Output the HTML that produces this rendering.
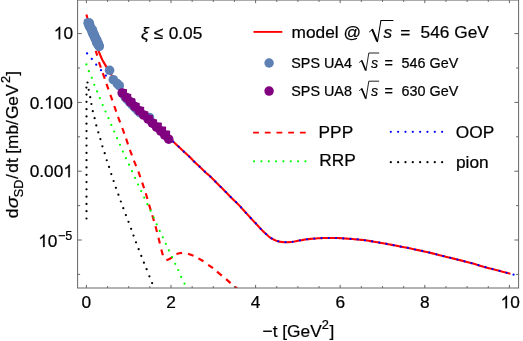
<!DOCTYPE html>
<html><head><meta charset="utf-8"><title>plot</title>
<style>html,body{margin:0;padding:0;background:#fff;}body{width:523px;height:341px;position:relative;overflow:hidden;font-family:"Liberation Sans",sans-serif;}</style></head>
<body>
<svg width="523" height="341" viewBox="0 0 523 341" style="position:absolute;left:0;top:0;will-change:transform">
<style>text{stroke:#000;stroke-width:0.22px}</style>
<defs><clipPath id="c"><rect x="77.60" y="0" width="441.00" height="288.00"/></clipPath></defs>
<rect x="0" y="0" width="523" height="341" fill="#fff"/>
<g clip-path="url(#c)" fill="none">
<path d="M86.40 14.50 L86.59 15.16 L86.85 16.11 L87.15 17.17 L87.43 18.17 L87.69 19.07 L87.95 19.96 L88.21 20.85 L88.47 21.73 L88.72 22.60 L88.98 23.47 L89.24 24.33 L89.50 25.19 L89.76 26.03 L90.02 26.87 L90.28 27.71 L90.53 28.54 L90.79 29.36 L91.05 30.17 L91.31 30.98 L91.57 31.78 L91.83 32.58 L92.08 33.36 L92.34 34.15 L92.60 34.92 L92.86 35.69 L93.12 36.45 L93.38 37.21 L93.63 37.96 L93.89 38.70 L94.15 39.43 L94.41 40.16 L94.67 40.88 L94.93 41.60 L95.18 42.31 L95.44 43.01 L95.70 43.71 L95.96 44.40 L96.22 45.08 L96.48 45.76 L96.73 46.43 L96.99 47.09 L97.25 47.74 L97.51 48.39 L97.77 49.04 L97.96 49.53 L98.12 49.93 L98.36 50.51 L98.80 51.54 L99.50 53.24 L100.40 55.41 L101.39 57.73 L102.40 59.90 L103.44 61.87 L104.54 63.79 L105.64 65.64 L106.70 67.40 L107.68 69.03 L108.62 70.54 L109.55 72.01 L110.50 73.50 L111.49 75.02 L112.49 76.54 L113.50 78.04 L114.50 79.50 L115.50 80.92 L116.51 82.31 L117.51 83.67 L118.50 85.00 L119.47 86.29 L120.44 87.53 L121.41 88.76 L122.40 90.00 L123.42 91.25 L124.47 92.50 L125.53 93.75 L126.60 95.00 L127.70 96.27 L128.81 97.54 L129.92 98.80 L131.00 100.00 L132.02 101.12 L133.01 102.19 L133.99 103.23 L135.00 104.30 L136.06 105.40 L137.14 106.50 L138.23 107.60 L139.30 108.70 L140.35 109.78 L141.40 110.86 L142.45 111.93 L143.50 113.00 L144.57 114.08 L145.65 115.15 L146.73 116.22 L147.80 117.30 L148.86 118.38 L149.91 119.46 L150.95 120.53 L152.00 121.60 L153.05 122.66 L154.10 123.71 L155.15 124.76 L156.20 125.80 L157.25 126.83 L158.29 127.86 L159.34 128.88 L160.40 129.90 L161.47 130.91 L162.55 131.91 L163.63 132.91 L164.70 133.90 L165.75 134.88 L166.80 135.86 L167.85 136.83 L168.90 137.80 L169.95 138.76 L170.99 139.70 L172.06 140.67 L173.20 141.70 L174.43 142.81 L175.73 143.97 L177.06 145.17 L178.40 146.40 L179.74 147.67 L181.09 148.99 L182.45 150.31 L183.80 151.60 L185.16 152.84 L186.52 154.05 L187.87 155.26 L189.20 156.50 L190.49 157.78 L191.75 159.09 L193.01 160.40 L194.30 161.70 L195.63 162.98 L196.99 164.26 L198.36 165.53 L199.70 166.80 L201.01 168.06 L202.30 169.33 L203.59 170.57 L204.90 171.80 L206.24 172.99 L207.61 174.14 L208.97 175.30 L210.30 176.50 L211.59 177.74 L212.85 179.01 L214.11 180.29 L215.40 181.60 L216.73 182.93 L218.09 184.29 L219.46 185.66 L220.80 187.00 L222.11 188.31 L223.41 189.60 L224.70 190.89 L226.00 192.20 L227.30 193.54 L228.59 194.91 L229.89 196.27 L231.20 197.60 L232.54 198.89 L233.91 200.15 L235.27 201.41 L236.60 202.70 L237.82 203.94 L238.97 205.14 L240.21 206.48 L241.70 208.10 L243.62 210.21 L245.83 212.68 L248.05 215.16 L250.00 217.30 L251.56 218.98 L252.91 220.38 L254.15 221.67 L255.40 223.00 L256.67 224.39 L257.90 225.78 L259.13 227.14 L260.40 228.50 L261.72 229.86 L263.06 231.21 L264.43 232.54 L265.80 233.80 L267.16 235.02 L268.53 236.20 L269.93 237.31 L271.40 238.30 L272.97 239.18 L274.60 239.97 L276.28 240.65 L278.00 241.20 L279.76 241.62 L281.56 241.91 L283.38 242.09 L285.20 242.20 L287.02 242.22 L288.85 242.14 L290.68 242.00 L292.50 241.80 L294.31 241.54 L296.11 241.20 L297.90 240.84 L299.70 240.50 L301.50 240.18 L303.29 239.86 L305.09 239.56 L306.90 239.30 L308.72 239.09 L310.55 238.91 L312.38 238.75 L314.20 238.60 L316.01 238.45 L317.81 238.31 L319.60 238.19 L321.40 238.10 L323.20 238.04 L324.99 238.02 L326.79 238.01 L328.60 238.00 L330.42 237.98 L332.24 237.97 L334.07 237.97 L335.90 238.00 L337.75 238.07 L339.60 238.17 L341.45 238.28 L343.30 238.40 L345.13 238.52 L346.96 238.64 L348.78 238.77 L350.60 238.90 L352.43 239.04 L354.26 239.18 L356.08 239.33 L357.90 239.50 L359.71 239.68 L361.51 239.87 L363.31 240.07 L365.10 240.30 L366.88 240.55 L368.66 240.83 L370.43 241.11 L372.20 241.40 L373.97 241.69 L375.74 241.99 L377.52 242.29 L379.30 242.60 L381.10 242.92 L382.90 243.24 L384.70 243.57 L386.50 243.90 L388.28 244.22 L390.06 244.54 L391.83 244.87 L393.60 245.20 L395.38 245.55 L397.16 245.90 L398.94 246.25 L400.70 246.60 L402.43 246.93 L404.13 247.24 L405.84 247.56 L407.60 247.90 L409.26 248.25 L410.85 248.59 L412.67 248.99 L415.00 249.50 L418.06 250.14 L421.64 250.88 L425.43 251.67 L429.10 252.50 L432.60 253.36 L436.10 254.28 L439.60 255.20 L443.10 256.10 L446.62 256.96 L450.15 257.80 L453.68 258.64 L457.20 259.50 L460.70 260.37 L464.20 261.26 L467.70 262.16 L471.20 263.10 L474.72 264.10 L478.25 265.15 L481.78 266.20 L485.30 267.20 L488.88 268.15 L492.49 269.07 L496.01 269.95 L499.30 270.80 L502.54 271.66 L505.72 272.53 L508.47 273.28 L510.40 273.80" stroke="#ff0000" stroke-width="2.1" stroke-linejoin="round"/>
<path d="M95.70 50.90 L97.30 55.60" stroke="#ff0000" stroke-width="2.15"/>
<path d="M98.90 62.10 L100.86 67.67" stroke="#ff0000" stroke-width="2.15"/>
<path d="M102.80 73.20 L104.74 78.77" stroke="#ff0000" stroke-width="2.15"/>
<path d="M106.50 83.80 L108.46 89.37" stroke="#ff0000" stroke-width="2.15"/>
<path d="M110.40 94.90 L112.36 100.47" stroke="#ff0000" stroke-width="2.15"/>
<path d="M114.30 106.00 L116.21 111.58" stroke="#ff0000" stroke-width="2.15"/>
<path d="M118.00 116.80 L120.11 122.31" stroke="#ff0000" stroke-width="2.15"/>
<path d="M122.30 128.00 L124.27 133.56" stroke="#ff0000" stroke-width="2.15"/>
<path d="M126.10 138.70 L128.01 144.28" stroke="#ff0000" stroke-width="2.15"/>
<path d="M129.90 149.80 L131.95 155.33" stroke="#ff0000" stroke-width="2.15"/>
<path d="M133.90 160.60 L136.15 166.05" stroke="#ff0000" stroke-width="2.15"/>
<path d="M138.40 171.50 L140.31 177.08" stroke="#ff0000" stroke-width="2.15"/>
<path d="M142.20 182.60 L144.08 188.19" stroke="#ff0000" stroke-width="2.15"/>
<path d="M145.80 193.30 L147.42 198.97" stroke="#ff0000" stroke-width="2.15"/>
<path d="M149.00 204.50 L150.72 210.14" stroke="#ff0000" stroke-width="2.15"/>
<path d="M152.30 215.30 L153.95 220.97" stroke="#ff0000" stroke-width="2.15"/>
<path d="M155.50 226.30 L156.99 232.01" stroke="#ff0000" stroke-width="2.15"/>
<path d="M158.50 237.80 L159.87 243.54" stroke="#ff0000" stroke-width="2.15"/>
<path d="M161.30 249.50 L162.87 255.19" stroke="#ff0000" stroke-width="2.15"/>
<path d="M166.40 260.30 L169.40 259.00 L172.40 257.10" stroke="#ff0000" stroke-width="2.15"/>
<path d="M176.40 254.00 L179.20 253.20 L182.10 252.90" stroke="#ff0000" stroke-width="2.15"/>
<path d="M188.00 253.65 L193.50 255.80" stroke="#ff0000" stroke-width="2.15"/>
<path d="M198.40 258.35 L203.50 261.30" stroke="#ff0000" stroke-width="2.15"/>
<path d="M208.20 264.80 L213.00 268.20" stroke="#ff0000" stroke-width="2.15"/>
<path d="M217.00 271.70 L221.80 275.60" stroke="#ff0000" stroke-width="2.15"/>
<path d="M226.10 279.10 L230.60 283.10" stroke="#ff0000" stroke-width="2.15"/>
<path d="M234.80 286.60 L237.20 288.60" stroke="#ff0000" stroke-width="2.15"/>
<circle cx="86.40" cy="64.40" r="1.12" fill="#00ff00"/>
<circle cx="88.90" cy="71.20" r="1.12" fill="#00ff00"/>
<circle cx="91.80" cy="77.80" r="1.12" fill="#00ff00"/>
<circle cx="94.30" cy="84.80" r="1.12" fill="#00ff00"/>
<circle cx="97.10" cy="91.40" r="1.12" fill="#00ff00"/>
<circle cx="99.80" cy="98.20" r="1.12" fill="#00ff00"/>
<circle cx="102.70" cy="105.10" r="1.12" fill="#00ff00"/>
<circle cx="105.50" cy="111.50" r="1.12" fill="#00ff00"/>
<circle cx="108.50" cy="118.10" r="1.12" fill="#00ff00"/>
<circle cx="111.30" cy="124.90" r="1.12" fill="#00ff00"/>
<circle cx="114.20" cy="131.50" r="1.12" fill="#00ff00"/>
<circle cx="117.10" cy="138.20" r="1.12" fill="#00ff00"/>
<circle cx="120.00" cy="144.80" r="1.12" fill="#00ff00"/>
<circle cx="122.90" cy="151.60" r="1.12" fill="#00ff00"/>
<circle cx="125.90" cy="158.20" r="1.12" fill="#00ff00"/>
<circle cx="129.05" cy="164.70" r="1.12" fill="#00ff00"/>
<circle cx="132.00" cy="171.20" r="1.12" fill="#00ff00"/>
<circle cx="135.10" cy="177.90" r="1.12" fill="#00ff00"/>
<circle cx="138.10" cy="184.50" r="1.12" fill="#00ff00"/>
<circle cx="141.20" cy="191.10" r="1.12" fill="#00ff00"/>
<circle cx="144.20" cy="197.60" r="1.12" fill="#00ff00"/>
<circle cx="147.40" cy="204.20" r="1.12" fill="#00ff00"/>
<circle cx="150.60" cy="210.70" r="1.12" fill="#00ff00"/>
<circle cx="153.70" cy="217.50" r="1.12" fill="#00ff00"/>
<circle cx="156.70" cy="224.30" r="1.12" fill="#00ff00"/>
<circle cx="159.75" cy="230.90" r="1.12" fill="#00ff00"/>
<circle cx="162.80" cy="237.30" r="1.12" fill="#00ff00"/>
<circle cx="165.85" cy="243.80" r="1.12" fill="#00ff00"/>
<circle cx="168.90" cy="250.40" r="1.12" fill="#00ff00"/>
<circle cx="172.10" cy="257.10" r="1.12" fill="#00ff00"/>
<circle cx="175.20" cy="263.80" r="1.12" fill="#00ff00"/>
<circle cx="178.25" cy="270.00" r="1.12" fill="#00ff00"/>
<circle cx="181.20" cy="276.90" r="1.12" fill="#00ff00"/>
<circle cx="184.50" cy="283.60" r="1.12" fill="#00ff00"/>
<circle cx="87.07" cy="53.39" r="1.12" fill="#0000ff"/>
<circle cx="91.81" cy="58.89" r="1.12" fill="#0000ff"/>
<circle cx="96.22" cy="64.66" r="1.12" fill="#0000ff"/>
<circle cx="101.01" cy="70.13" r="1.12" fill="#0000ff"/>
<circle cx="105.84" cy="75.56" r="1.12" fill="#0000ff"/>
<circle cx="110.78" cy="80.89" r="1.12" fill="#0000ff"/>
<circle cx="115.93" cy="86.01" r="1.12" fill="#0000ff"/>
<circle cx="121.24" cy="90.98" r="1.12" fill="#0000ff"/>
<circle cx="126.62" cy="95.87" r="1.12" fill="#0000ff"/>
<circle cx="131.86" cy="100.89" r="1.12" fill="#0000ff"/>
<circle cx="136.83" cy="106.19" r="1.12" fill="#0000ff"/>
<circle cx="141.92" cy="111.39" r="1.12" fill="#0000ff"/>
<circle cx="147.04" cy="116.54" r="1.12" fill="#0000ff"/>
<circle cx="152.13" cy="121.73" r="1.12" fill="#0000ff"/>
<circle cx="157.27" cy="126.86" r="1.12" fill="#0000ff"/>
<circle cx="162.52" cy="131.89" r="1.12" fill="#0000ff"/>
<circle cx="167.85" cy="136.83" r="1.12" fill="#0000ff"/>
<circle cx="173.22" cy="141.72" r="1.12" fill="#0000ff"/>
<circle cx="178.61" cy="146.60" r="1.12" fill="#0000ff"/>
<circle cx="183.84" cy="151.64" r="1.12" fill="#0000ff"/>
<circle cx="189.22" cy="156.52" r="1.12" fill="#0000ff"/>
<circle cx="194.31" cy="161.71" r="1.12" fill="#0000ff"/>
<circle cx="199.59" cy="166.70" r="1.12" fill="#0000ff"/>
<circle cx="204.83" cy="171.74" r="1.12" fill="#0000ff"/>
<circle cx="210.31" cy="176.51" r="1.12" fill="#0000ff"/>
<circle cx="215.45" cy="181.65" r="1.12" fill="#0000ff"/>
<circle cx="220.59" cy="186.79" r="1.12" fill="#0000ff"/>
<circle cx="225.73" cy="191.92" r="1.12" fill="#0000ff"/>
<circle cx="230.77" cy="197.16" r="1.12" fill="#0000ff"/>
<circle cx="236.04" cy="202.16" r="1.12" fill="#0000ff"/>
<circle cx="241.06" cy="207.41" r="1.12" fill="#0000ff"/>
<circle cx="245.94" cy="212.80" r="1.12" fill="#0000ff"/>
<circle cx="250.82" cy="218.18" r="1.12" fill="#0000ff"/>
<circle cx="255.82" cy="223.46" r="1.12" fill="#0000ff"/>
<circle cx="260.71" cy="228.82" r="1.12" fill="#0000ff"/>
<circle cx="265.91" cy="233.90" r="1.12" fill="#0000ff"/>
<circle cx="271.60" cy="238.41" r="1.12" fill="#0000ff"/>
<circle cx="278.25" cy="241.26" r="1.12" fill="#0000ff"/>
<circle cx="285.44" cy="242.20" r="1.12" fill="#0000ff"/>
<circle cx="292.69" cy="241.77" r="1.12" fill="#0000ff"/>
<circle cx="299.84" cy="240.48" r="1.12" fill="#0000ff"/>
<circle cx="307.01" cy="239.29" r="1.12" fill="#0000ff"/>
<circle cx="314.24" cy="238.60" r="1.12" fill="#0000ff"/>
<circle cx="321.49" cy="238.10" r="1.12" fill="#0000ff"/>
<circle cx="328.76" cy="238.00" r="1.12" fill="#0000ff"/>
<circle cx="336.02" cy="238.00" r="1.12" fill="#0000ff"/>
<circle cx="343.28" cy="238.40" r="1.12" fill="#0000ff"/>
<circle cx="350.53" cy="238.89" r="1.12" fill="#0000ff"/>
<circle cx="357.77" cy="239.49" r="1.12" fill="#0000ff"/>
<circle cx="364.99" cy="240.29" r="1.12" fill="#0000ff"/>
<circle cx="372.18" cy="241.40" r="1.12" fill="#0000ff"/>
<circle cx="379.34" cy="242.61" r="1.12" fill="#0000ff"/>
<circle cx="386.49" cy="243.90" r="1.12" fill="#0000ff"/>
<circle cx="393.64" cy="245.21" r="1.12" fill="#0000ff"/>
<circle cx="400.77" cy="246.61" r="1.12" fill="#0000ff"/>
<circle cx="407.91" cy="247.96" r="1.12" fill="#0000ff"/>
<circle cx="415.01" cy="249.50" r="1.12" fill="#0000ff"/>
<circle cx="422.13" cy="250.98" r="1.12" fill="#0000ff"/>
<circle cx="429.23" cy="252.53" r="1.12" fill="#0000ff"/>
<circle cx="436.27" cy="254.32" r="1.12" fill="#0000ff"/>
<circle cx="443.30" cy="256.15" r="1.12" fill="#0000ff"/>
<circle cx="450.37" cy="257.85" r="1.12" fill="#0000ff"/>
<circle cx="457.43" cy="259.56" r="1.12" fill="#0000ff"/>
<circle cx="464.48" cy="261.33" r="1.12" fill="#0000ff"/>
<circle cx="471.51" cy="263.19" r="1.12" fill="#0000ff"/>
<circle cx="478.48" cy="265.22" r="1.12" fill="#0000ff"/>
<circle cx="485.46" cy="267.24" r="1.12" fill="#0000ff"/>
<circle cx="492.50" cy="269.07" r="1.12" fill="#0000ff"/>
<circle cx="499.54" cy="270.86" r="1.12" fill="#0000ff"/>
<circle cx="506.56" cy="272.75" r="1.12" fill="#0000ff"/>
<circle cx="513.55" cy="274.71" r="1.12" fill="#0000ff"/>
<circle cx="86.50" cy="218.50" r="1.12" fill="#000"/>
<circle cx="86.50" cy="211.21" r="1.12" fill="#000"/>
<circle cx="86.50" cy="203.92" r="1.12" fill="#000"/>
<circle cx="86.50" cy="196.63" r="1.12" fill="#000"/>
<circle cx="86.50" cy="189.34" r="1.12" fill="#000"/>
<circle cx="86.50" cy="182.05" r="1.12" fill="#000"/>
<circle cx="86.50" cy="174.76" r="1.12" fill="#000"/>
<circle cx="86.50" cy="167.47" r="1.12" fill="#000"/>
<circle cx="86.50" cy="160.18" r="1.12" fill="#000"/>
<circle cx="86.50" cy="152.89" r="1.12" fill="#000"/>
<circle cx="86.50" cy="145.60" r="1.12" fill="#000"/>
<circle cx="86.50" cy="138.31" r="1.12" fill="#000"/>
<circle cx="86.50" cy="131.02" r="1.12" fill="#000"/>
<circle cx="86.50" cy="123.73" r="1.12" fill="#000"/>
<circle cx="86.50" cy="116.44" r="1.12" fill="#000"/>
<circle cx="86.50" cy="109.15" r="1.12" fill="#000"/>
<circle cx="86.50" cy="101.86" r="1.12" fill="#000"/>
<circle cx="86.50" cy="94.57" r="1.12" fill="#000"/>
<circle cx="86.40" cy="87.60" r="1.12" fill="#000"/>
<circle cx="87.50" cy="82.50" r="1.12" fill="#000"/>
<circle cx="88.70" cy="89.80" r="1.12" fill="#000"/>
<circle cx="90.20" cy="97.20" r="1.12" fill="#000"/>
<circle cx="91.40" cy="104.00" r="1.12" fill="#000"/>
<circle cx="92.80" cy="111.20" r="1.12" fill="#000"/>
<circle cx="94.60" cy="118.20" r="1.12" fill="#000"/>
<circle cx="96.30" cy="125.40" r="1.12" fill="#000"/>
<circle cx="98.30" cy="132.30" r="1.12" fill="#000"/>
<circle cx="100.40" cy="139.10" r="1.12" fill="#000"/>
<circle cx="102.40" cy="146.30" r="1.12" fill="#000"/>
<circle cx="104.70" cy="153.20" r="1.12" fill="#000"/>
<circle cx="106.75" cy="160.25" r="1.12" fill="#000"/>
<circle cx="109.05" cy="166.95" r="1.12" fill="#000"/>
<circle cx="111.30" cy="174.10" r="1.12" fill="#000"/>
<circle cx="113.60" cy="181.00" r="1.12" fill="#000"/>
<circle cx="115.90" cy="187.80" r="1.12" fill="#000"/>
<circle cx="118.40" cy="194.70" r="1.12" fill="#000"/>
<circle cx="120.80" cy="201.50" r="1.12" fill="#000"/>
<circle cx="123.30" cy="208.20" r="1.12" fill="#000"/>
<circle cx="125.90" cy="215.10" r="1.12" fill="#000"/>
<circle cx="128.50" cy="221.80" r="1.12" fill="#000"/>
<circle cx="131.10" cy="228.80" r="1.12" fill="#000"/>
<circle cx="133.50" cy="235.60" r="1.12" fill="#000"/>
<circle cx="136.00" cy="242.30" r="1.12" fill="#000"/>
<circle cx="138.65" cy="249.15" r="1.12" fill="#000"/>
<circle cx="141.30" cy="255.90" r="1.12" fill="#000"/>
<circle cx="143.90" cy="262.70" r="1.12" fill="#000"/>
<circle cx="146.60" cy="269.20" r="1.12" fill="#000"/>
<circle cx="149.40" cy="276.30" r="1.12" fill="#000"/>
<circle cx="152.10" cy="283.10" r="1.12" fill="#000"/>
<rect x="83.7" y="18.5" width="9.2" height="6.5" rx="2.6" fill="#5e81b5"/>
<circle cx="88.56" cy="23.09" r="4.80" fill="#5e81b5"/>
<circle cx="89.22" cy="23.74" r="4.80" fill="#5e81b5"/>
<circle cx="89.40" cy="24.61" r="4.80" fill="#5e81b5"/>
<circle cx="89.19" cy="25.39" r="4.80" fill="#5e81b5"/>
<circle cx="89.47" cy="26.04" r="4.80" fill="#5e81b5"/>
<circle cx="89.81" cy="26.52" r="4.80" fill="#5e81b5"/>
<circle cx="90.51" cy="27.66" r="4.80" fill="#5e81b5"/>
<circle cx="90.49" cy="27.99" r="4.80" fill="#5e81b5"/>
<circle cx="91.35" cy="29.12" r="4.80" fill="#5e81b5"/>
<circle cx="91.60" cy="29.48" r="4.80" fill="#5e81b5"/>
<circle cx="92.35" cy="29.97" r="4.80" fill="#5e81b5"/>
<circle cx="92.53" cy="30.81" r="4.80" fill="#5e81b5"/>
<circle cx="92.05" cy="31.40" r="4.80" fill="#5e81b5"/>
<circle cx="92.54" cy="32.51" r="4.80" fill="#5e81b5"/>
<circle cx="92.70" cy="33.06" r="4.80" fill="#5e81b5"/>
<circle cx="93.52" cy="33.63" r="4.80" fill="#5e81b5"/>
<circle cx="93.72" cy="34.14" r="4.80" fill="#5e81b5"/>
<circle cx="93.49" cy="34.92" r="4.80" fill="#5e81b5"/>
<circle cx="94.48" cy="35.75" r="4.80" fill="#5e81b5"/>
<circle cx="94.39" cy="36.54" r="4.80" fill="#5e81b5"/>
<circle cx="94.85" cy="37.06" r="4.80" fill="#5e81b5"/>
<circle cx="95.53" cy="37.99" r="4.80" fill="#5e81b5"/>
<circle cx="95.24" cy="38.61" r="4.80" fill="#5e81b5"/>
<circle cx="95.85" cy="39.49" r="4.80" fill="#5e81b5"/>
<circle cx="96.38" cy="39.83" r="4.80" fill="#5e81b5"/>
<circle cx="96.97" cy="40.42" r="4.80" fill="#5e81b5"/>
<circle cx="96.66" cy="41.50" r="4.80" fill="#5e81b5"/>
<circle cx="96.67" cy="42.03" r="4.80" fill="#5e81b5"/>
<circle cx="96.86" cy="42.83" r="4.80" fill="#5e81b5"/>
<circle cx="97.96" cy="43.47" r="4.80" fill="#5e81b5"/>
<circle cx="98.39" cy="44.01" r="4.80" fill="#5e81b5"/>
<circle cx="98.50" cy="44.87" r="4.80" fill="#5e81b5"/>
<circle cx="98.68" cy="45.48" r="4.80" fill="#5e81b5"/>
<circle cx="99.27" cy="46.47" r="4.80" fill="#5e81b5"/>
<circle cx="89.30" cy="23.30" r="4.80" fill="#5e81b5"/>
<circle cx="88.30" cy="23.30" r="4.80" fill="#5e81b5"/>
<circle cx="109.60" cy="70.30" r="4.80" fill="#5e81b5"/>
<circle cx="113.30" cy="79.70" r="4.80" fill="#5e81b5"/>
<circle cx="117.20" cy="83.60" r="4.80" fill="#5e81b5"/>
<circle cx="119.30" cy="85.70" r="4.80" fill="#5e81b5"/>
<circle cx="125.24" cy="97.28" r="4.80" fill="#5e81b5"/>
<circle cx="127.33" cy="99.54" r="4.80" fill="#5e81b5"/>
<circle cx="129.42" cy="101.79" r="4.80" fill="#5e81b5"/>
<circle cx="131.52" cy="104.01" r="4.80" fill="#5e81b5"/>
<circle cx="133.61" cy="106.22" r="4.80" fill="#5e81b5"/>
<circle cx="135.70" cy="108.40" r="4.80" fill="#5e81b5"/>
<circle cx="137.79" cy="110.56" r="4.80" fill="#5e81b5"/>
<circle cx="139.89" cy="112.71" r="4.80" fill="#5e81b5"/>
<circle cx="149.50" cy="117.50" r="4.80" fill="#5e81b5"/>
<circle cx="122.20" cy="93.00" r="4.80" fill="#800080"/>
<rect x="119.20" y="89.10" width="7.80" height="4.70" rx="0.7" fill="#800080"/>
<circle cx="126.43" cy="97.63" r="4.80" fill="#800080"/>
<rect x="123.43" y="93.73" width="7.80" height="4.70" rx="0.7" fill="#800080"/>
<circle cx="130.65" cy="102.17" r="4.80" fill="#800080"/>
<rect x="127.65" y="98.27" width="7.80" height="4.70" rx="0.7" fill="#800080"/>
<circle cx="134.88" cy="106.63" r="4.80" fill="#800080"/>
<rect x="131.88" y="102.73" width="7.80" height="4.70" rx="0.7" fill="#800080"/>
<circle cx="139.36" cy="110.75" r="4.80" fill="#800080"/>
<rect x="136.36" y="106.85" width="7.80" height="4.70" rx="0.7" fill="#800080"/>
<circle cx="143.59" cy="115.04" r="4.80" fill="#800080"/>
<rect x="140.59" y="111.14" width="7.80" height="4.70" rx="0.7" fill="#800080"/>
<circle cx="148.06" cy="118.99" r="4.80" fill="#800080"/>
<rect x="145.06" y="115.09" width="7.80" height="4.70" rx="0.7" fill="#800080"/>
<circle cx="152.29" cy="123.10" r="4.80" fill="#800080"/>
<rect x="149.29" y="119.20" width="7.80" height="4.70" rx="0.7" fill="#800080"/>
<circle cx="156.52" cy="127.13" r="4.80" fill="#800080"/>
<rect x="153.52" y="122.53" width="8.30" height="5.40" rx="0.7" fill="#800080"/>
<circle cx="160.75" cy="131.07" r="4.80" fill="#800080"/>
<rect x="157.75" y="126.47" width="8.30" height="5.40" rx="0.7" fill="#800080"/>
<circle cx="164.77" cy="135.13" r="4.80" fill="#800080"/>
<rect x="161.77" y="130.53" width="8.30" height="5.40" rx="0.7" fill="#800080"/>
<circle cx="168.70" cy="139.20" r="4.80" fill="#800080"/>
</g>
<g stroke="#666" stroke-width="1" fill="none">
<rect x="77.60" y="0.05" width="441.00" height="287.95"/>
<path d="M86.40 288.00 v-3.10 M86.40 0.05 v3.10"/>
<path d="M107.55 288.00 v-1.90 M107.55 0.05 v1.90"/>
<path d="M128.70 288.00 v-1.90 M128.70 0.05 v1.90"/>
<path d="M149.85 288.00 v-1.90 M149.85 0.05 v1.90"/>
<path d="M171.00 288.00 v-3.10 M171.00 0.05 v3.10"/>
<path d="M192.15 288.00 v-1.90 M192.15 0.05 v1.90"/>
<path d="M213.30 288.00 v-1.90 M213.30 0.05 v1.90"/>
<path d="M234.45 288.00 v-1.90 M234.45 0.05 v1.90"/>
<path d="M255.60 288.00 v-3.10 M255.60 0.05 v3.10"/>
<path d="M276.75 288.00 v-1.90 M276.75 0.05 v1.90"/>
<path d="M297.90 288.00 v-1.90 M297.90 0.05 v1.90"/>
<path d="M319.05 288.00 v-1.90 M319.05 0.05 v1.90"/>
<path d="M340.20 288.00 v-3.10 M340.20 0.05 v3.10"/>
<path d="M361.35 288.00 v-1.90 M361.35 0.05 v1.90"/>
<path d="M382.50 288.00 v-1.90 M382.50 0.05 v1.90"/>
<path d="M403.65 288.00 v-1.90 M403.65 0.05 v1.90"/>
<path d="M424.80 288.00 v-3.10 M424.80 0.05 v3.10"/>
<path d="M445.95 288.00 v-1.90 M445.95 0.05 v1.90"/>
<path d="M467.10 288.00 v-1.90 M467.10 0.05 v1.90"/>
<path d="M488.25 288.00 v-1.90 M488.25 0.05 v1.90"/>
<path d="M509.40 288.00 v-3.10 M509.40 0.05 v3.10"/>
<path d="M77.60 274.40 h2.50 M518.60 274.40 h-2.50"/>
<path d="M77.60 240.00 h4.20 M518.60 240.00 h-4.20"/>
<path d="M77.60 205.60 h2.50 M518.60 205.60 h-2.50"/>
<path d="M77.60 171.20 h4.20 M518.60 171.20 h-4.20"/>
<path d="M77.60 136.80 h2.50 M518.60 136.80 h-2.50"/>
<path d="M77.60 102.40 h4.20 M518.60 102.40 h-4.20"/>
<path d="M77.60 68.00 h2.50 M518.60 68.00 h-2.50"/>
<path d="M77.60 33.60 h4.20 M518.60 33.60 h-4.20"/>
</g>
<g font-family="Liberation Sans, sans-serif" font-size="17.30" fill="#000">
<path transform="translate(53.76,39.30) scale(0.00845,-0.00845)" d="M763 0 H583 V1147 Q518 1085 412.5 1023 Q307 961 223 930 V1104 Q374 1175 487 1276 Q600 1377 647 1472 H763 Z" fill="#000" stroke="#000" stroke-width="26.0"/>
<text x="63.38" y="39.3">0</text>
<text x="29.71" y="108.5">0.</text>
<path transform="translate(44.14,108.50) scale(0.00845,-0.00845)" d="M763 0 H583 V1147 Q518 1085 412.5 1023 Q307 961 223 930 V1104 Q374 1175 487 1276 Q600 1377 647 1472 H763 Z" fill="#000" stroke="#000" stroke-width="26.0"/>
<text x="53.76" y="108.5">00</text>
<text x="29.71" y="177.2">0.00</text>
<path transform="translate(63.38,177.20) scale(0.00845,-0.00845)" d="M763 0 H583 V1147 Q518 1085 412.5 1023 Q307 961 223 930 V1104 Q374 1175 487 1276 Q600 1377 647 1472 H763 Z" fill="#000" stroke="#000" stroke-width="26.0"/>
<text x="58.03" y="239.70" font-size="12.60">−5</text>
<path transform="translate(38.19,247.00) scale(0.00845,-0.00845)" d="M763 0 H583 V1147 Q518 1085 412.5 1023 Q307 961 223 930 V1104 Q374 1175 487 1276 Q600 1377 647 1472 H763 Z" fill="#000" stroke="#000" stroke-width="26.0"/>
<text x="47.81" y="247.0">0</text>
<text x="86.40" y="308.3" text-anchor="middle">0</text>
<text x="171.00" y="308.3" text-anchor="middle">2</text>
<text x="255.60" y="308.3" text-anchor="middle">4</text>
<text x="340.20" y="308.3" text-anchor="middle">6</text>
<text x="424.80" y="308.3" text-anchor="middle">8</text>
<path transform="translate(500.58,308.30) scale(0.00845,-0.00845)" d="M763 0 H583 V1147 Q518 1085 412.5 1023 Q307 961 223 930 V1104 Q374 1175 487 1276 Q600 1377 647 1472 H763 Z" fill="#000" stroke="#000" stroke-width="26.0"/>
<text x="510.20" y="308.3">0</text>
<text x="262.6" y="337.3">−t [GeV<tspan font-size="12.8" dy="-8.2">2</tspan><tspan dy="8.2" dx="0.8">]</tspan></text>
<g transform="translate(18,217.8) rotate(-90)">
<text x="-0.4" y="0">d</text>
<text transform="translate(9.6,0) scale(1.12,1)" x="0" y="0" font-style="italic">σ</text>
<text x="20.6" y="4.8" font-size="12.6">SD</text>
<text x="38.9" y="0">/</text>
<text x="45.1" y="0">dt</text>
<text x="64.1" y="0">[mb/</text>
<text x="98.7" y="0">GeV</text>
<text x="134.9" y="-8.1" font-size="12.8">2</text>
<text x="142.0" y="0">]</text>
</g>
<text x="141" y="38.8"><tspan font-style="italic">ξ</tspan> <tspan dx="0.3">≤</tspan> <tspan dx="0.5">0.05</tspan></text>
<path d="M253.5 31.9 H282.3" stroke="#ff0000" stroke-width="1.9"/>
<text x="291.6" y="38.1">model @</text>
<path d="M369.20 32.10 L372.50 29.40" fill="none" stroke="#000" stroke-width="0.95"/><path d="M372.10 29.20 L377.20 41.40" fill="none" stroke="#000" stroke-width="2.00"/><path d="M377.40 42.10 L380.90 20.50 H393.40" fill="none" stroke="#000" stroke-width="1.05" stroke-linejoin="miter"/><text x="383.50" y="38.10" font-size="17.30" font-style="italic">s</text>
<text x="400.2" y="38.1">=</text>
<text x="420.6" y="38.1">546 GeV</text>
<circle cx="269.1" cy="63" r="4.75" fill="#5e81b5"/>
<circle cx="269.1" cy="91.1" r="4.75" fill="#800080"/>
<text x="291.3" y="67.60" font-size="14.35">SPS UA4</text>
<path d="M359.10 62.62 L361.84 60.38" fill="none" stroke="#000" stroke-width="0.79"/><path d="M361.51 60.22 L365.74 70.34" fill="none" stroke="#000" stroke-width="1.66"/><path d="M365.90 70.92 L368.80 53.00 H379.17" fill="none" stroke="#000" stroke-width="0.87" stroke-linejoin="miter"/><text x="370.96" y="67.60" font-size="14.35" font-style="italic">s</text>
<text x="384.6" y="67.60" font-size="14.35">=</text>
<text x="401.6" y="67.60" font-size="14.35">546 GeV</text>
<text x="291.3" y="95.80" font-size="14.35">SPS UA8</text>
<path d="M359.10 90.82 L361.84 88.58" fill="none" stroke="#000" stroke-width="0.79"/><path d="M361.51 88.42 L365.74 98.54" fill="none" stroke="#000" stroke-width="1.66"/><path d="M365.90 99.12 L368.80 81.20 H379.17" fill="none" stroke="#000" stroke-width="0.87" stroke-linejoin="miter"/><text x="370.96" y="95.80" font-size="14.35" font-style="italic">s</text>
<text x="384.6" y="95.80" font-size="14.35">=</text>
<text x="401.6" y="95.80" font-size="14.35">630 GeV</text>
<path d="M253.1 132.6 H306" stroke="#ff0000" stroke-width="1.95" stroke-dasharray="5.8 5.9"/>
<circle cx="254.10" cy="161.3" r="1.1" fill="#00ff00"/>
<circle cx="390.80" cy="131.8" r="1.1" fill="#0000ff"/>
<circle cx="390.80" cy="162.2" r="1.1" fill="#000"/>
<circle cx="261.43" cy="161.3" r="1.1" fill="#00ff00"/>
<circle cx="398.13" cy="131.8" r="1.1" fill="#0000ff"/>
<circle cx="398.13" cy="162.2" r="1.1" fill="#000"/>
<circle cx="268.76" cy="161.3" r="1.1" fill="#00ff00"/>
<circle cx="405.46" cy="131.8" r="1.1" fill="#0000ff"/>
<circle cx="405.46" cy="162.2" r="1.1" fill="#000"/>
<circle cx="276.09" cy="161.3" r="1.1" fill="#00ff00"/>
<circle cx="412.79" cy="131.8" r="1.1" fill="#0000ff"/>
<circle cx="412.79" cy="162.2" r="1.1" fill="#000"/>
<circle cx="283.42" cy="161.3" r="1.1" fill="#00ff00"/>
<circle cx="420.12" cy="131.8" r="1.1" fill="#0000ff"/>
<circle cx="420.12" cy="162.2" r="1.1" fill="#000"/>
<circle cx="290.75" cy="161.3" r="1.1" fill="#00ff00"/>
<circle cx="427.45" cy="131.8" r="1.1" fill="#0000ff"/>
<circle cx="427.45" cy="162.2" r="1.1" fill="#000"/>
<circle cx="298.08" cy="161.3" r="1.1" fill="#00ff00"/>
<circle cx="434.78" cy="131.8" r="1.1" fill="#0000ff"/>
<circle cx="434.78" cy="162.2" r="1.1" fill="#000"/>
<circle cx="305.41" cy="161.3" r="1.1" fill="#00ff00"/>
<circle cx="442.11" cy="131.8" r="1.1" fill="#0000ff"/>
<circle cx="442.11" cy="162.2" r="1.1" fill="#000"/>
<text x="318.6" y="137.9">PPP</text>
<text x="319.2" y="166.0">RRP</text>
<text x="455.8" y="137.8">OOP</text>
<text x="456.0" y="168.2">pion</text>
</g>
</svg>
</body></html>
